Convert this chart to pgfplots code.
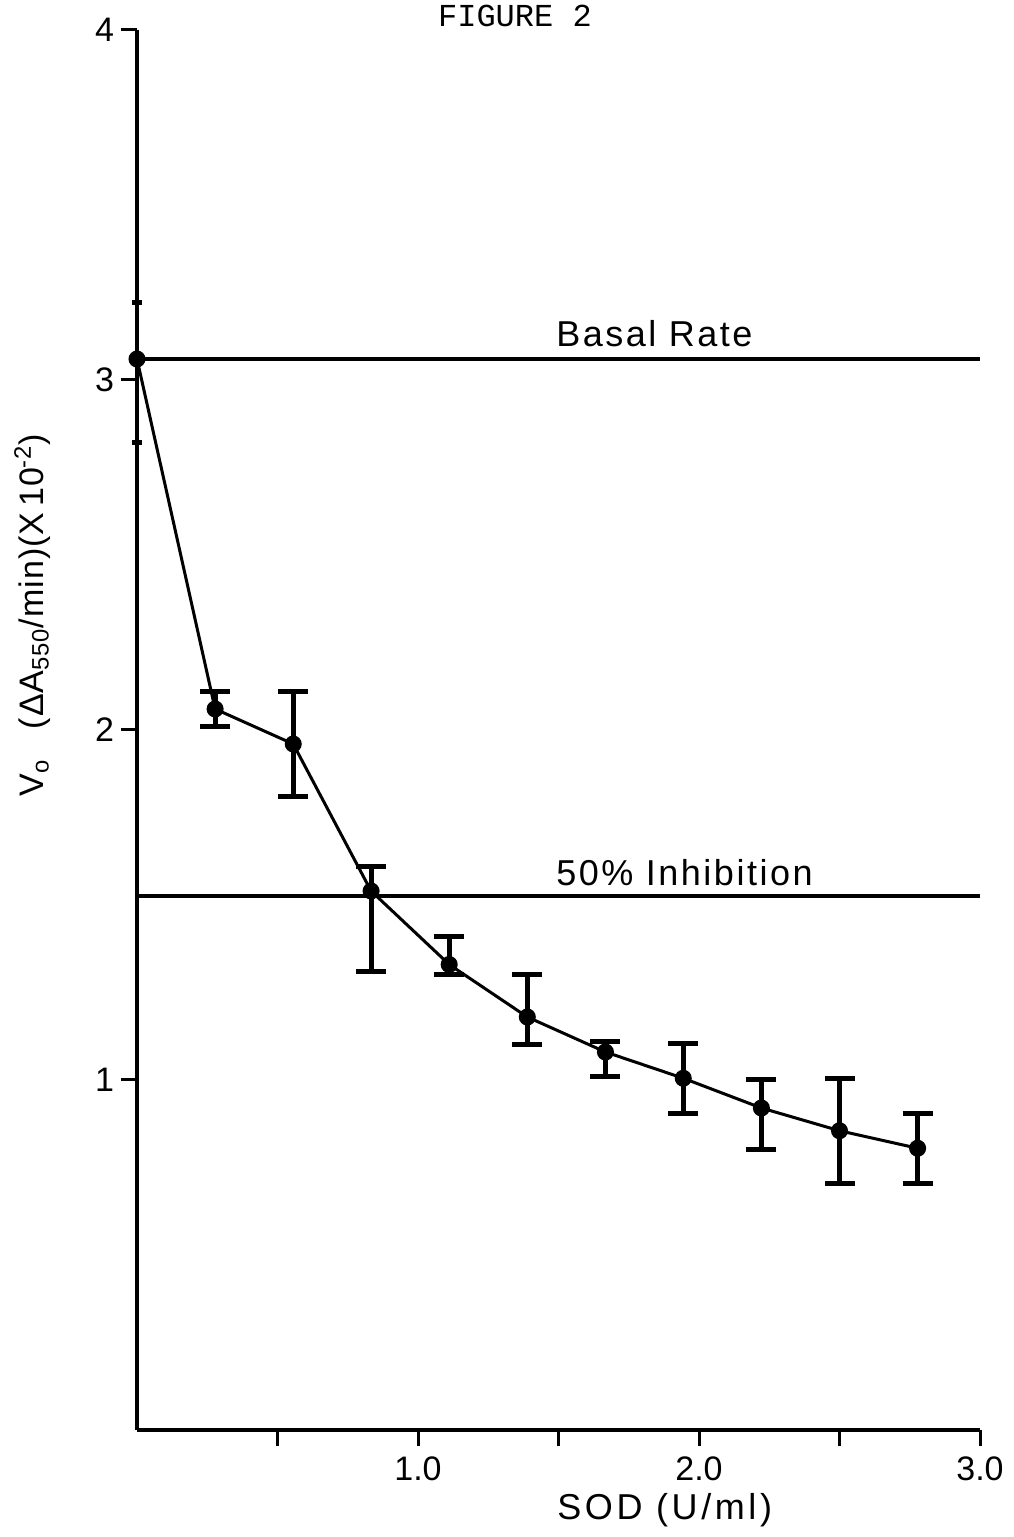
\documentclass[border=0pt]{standalone}
\usepackage{fontspec}
\setmainfont{Liberation Sans}
\newfontfamily\typewriter{Liberation Mono}
\usepackage{pgfplots}
\pgfplotsset{compat=1.18}
\usepackage{pgfplotstable}

% SOD (U/ml), Vo, error up, error down
\pgfplotstableread{
x     y     ep    em
0     3.06  0.16  0.24
0.278 2.06  0.05  0.05
0.556 1.96  0.15  0.15
0.833 1.54  0.07  0.23
1.111 1.33  0.08  0.03
1.389 1.18  0.12  0.08
1.667 1.08  0.03  0.07
1.944 1.005 0.10  0.10
2.222 0.92  0.08  0.12
2.500 0.855 0.15  0.15
2.778 0.805 0.10  0.10
}\sodtable

\begin{document}
\begin{tikzpicture}
\begin{axis}[
  scale only axis, width=421.5pt, height=700pt,
  xmin=0, xmax=3, ymin=0, ymax=4,
  axis x line=bottom, axis y line=left,
  axis line style={-, line width=2pt},
  tick align=outside, major tick length=8pt,
  xtick={0.5,1,1.5,2,2.5,3}, xticklabels={,1.0,,2.0,,3.0},
  ytick={1,2,3,4}, yticklabels={1,2,3,4},
  tick style={line width=1.5pt, black},
  xticklabel style={font=\fontsize{17}{20}\selectfont, yshift=-2pt},
  yticklabel style={font=\fontsize{17}{20}\selectfont},
  /pgf/number format/assume math mode=true,
  xlabel={\addfontfeature{LetterSpace=10}SOD (U/ml)},
  xlabel style={at={(axis description cs:0.626,-0.057)}, anchor=center, font=\fontsize{18}{20}\selectfont},
  ylabel={\addfontfeature{LetterSpace=3}V\textsubscript{o}\hspace{0.9em}(ΔA\textsubscript{550}/min)(X\,10\textsuperscript{-2})},
  ylabel style={at={(axis description cs:-0.124,0.582)}, anchor=center, font=\fontsize{17}{20}\selectfont},
  clip=false,
]
% reference lines
\addplot[black, line width=2pt] coordinates {(0,3.06) (3,3.06)};
\addplot[black, line width=2pt] coordinates {(0,1.525) (3,1.525)};

% curve
\addplot[black, line width=1.5pt, mark=*, mark size=3.5pt] table[x=x, y=y] {\sodtable};

% error bars
\addplot[black, only marks, mark=none, skip coords between index={0}{1},
  error bars/.cd, y dir=both, y explicit,
  error bar style={line width=2.5pt},
  error mark options={rotate=90, mark size=7.5pt, line width=2.5pt}]
  table[x=x, y=y, y error plus=ep, y error minus=em] {\sodtable};
\addplot[black, only marks, mark=none, skip coords between index={1}{11},
  error bars/.cd, y dir=both, y explicit,
  error bar style={line width=1.5pt},
  error mark options={rotate=90, mark size=2.5pt, line width=2.5pt}]
  table[x=x, y=y, y error plus=ep, y error minus=em] {\sodtable};

\node[anchor=base west, font=\fontsize{18}{20}\selectfont\addfontfeature{LetterSpace=7}] at (axis cs:1.467,3.095) {Basal Rate};
\node[anchor=base west, font=\fontsize{18}{20}\selectfont\addfontfeature{LetterSpace=7}] at (axis cs:1.467,1.557) {50\% Inhibition};
\node[anchor=center, font=\fontsize{16}{18}\selectfont\typewriter] at (axis cs:1.345,4.04) {FIGURE 2};
\end{axis}
\pgfresetboundingbox
\path (-68.5pt,-53.5pt) rectangle (438pt,715pt);
\end{tikzpicture}
\end{document}
